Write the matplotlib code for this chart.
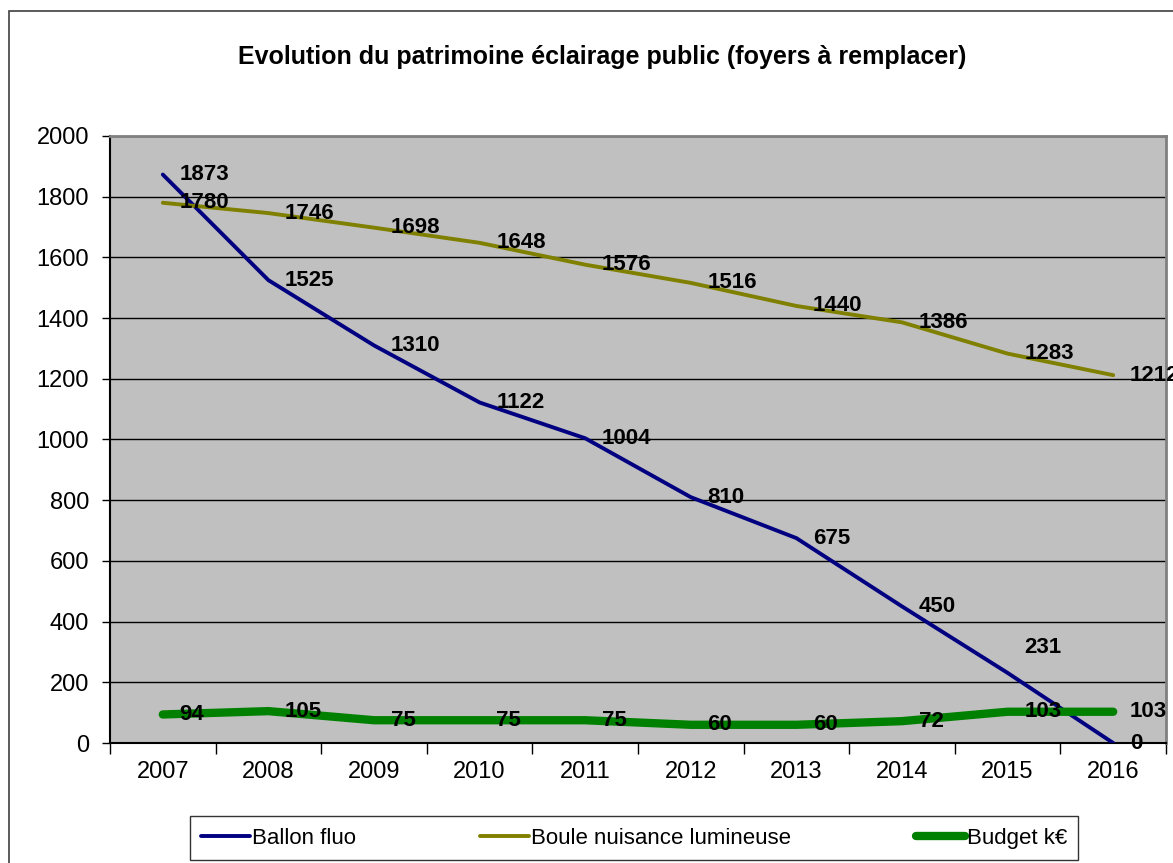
import numpy as np
import matplotlib.pyplot as plt
from matplotlib.patches import Rectangle

plt.rcParams['font.family'] = ['Liberation Sans', 'DejaVu Sans']

annees = ['2007', '2008', '2009', '2010', '2011', '2012', '2013', '2014', '2015', '2016']
ballon_fluo = [1873, 1525, 1310, 1122, 1004, 810, 675, 450, 231, 0]
boule_nuisance = [1780, 1746, 1698, 1648, 1576, 1516, 1440, 1386, 1283, 1212]
budget = [94, 105, 75, 75, 75, 60, 60, 72, 103, 103]

fig = plt.figure(figsize=(11.73, 8.63), dpi=100)
ax = fig.add_axes([110 / 1173, 120 / 863, 1056 / 1173, 607 / 863])
ax.set_facecolor('#C0C0C0')

x = np.arange(len(annees))
series = [
    (ballon_fluo, '#000080', 2.8, 'Ballon fluo'),
    (boule_nuisance, '#808000', 2.8, 'Boule nuisance lumineuse'),
    (budget, '#008000', 6, 'Budget k€'),
]
for vals, col, lw, lab in series:
    ax.plot(x, vals, color=col, lw=lw, label=lab, solid_capstyle='round', zorder=3)
    for xi, v in zip(x, vals):
        dy = 0
        if lab == 'Ballon fluo' and v == 231:
            dy = 18
        ax.annotate(str(v), (xi, v), xytext=(12, dy), textcoords='offset points',
                    ha='left', va='center', fontsize=16, fontweight='bold',
                    color='black', zorder=4, annotation_clip=False)

ax.set_xlim(-0.5, 9.5)
ax.set_ylim(0, 2000)
ax.set_yticks(range(0, 2001, 200))
ax.yaxis.grid(True, color='black', lw=1)
ax.set_axisbelow(True)
ax.set_xticks(x)
ax.set_xticklabels(annees)
ax.set_xticks(np.arange(-0.5, 10, 1), minor=True)
ax.tick_params(axis='x', which='major', length=0, labelsize=17, pad=13)
ax.tick_params(axis='x', which='minor', length=8, width=1, color='black')
ax.tick_params(axis='y', length=6, width=1, labelsize=17, color='black', pad=9)

ax.spines['top'].set_color('#808080')
ax.spines['right'].set_color('#808080')
ax.spines['top'].set_linewidth(2)
ax.spines['right'].set_linewidth(2)
ax.spines['left'].set_linewidth(1.5)
ax.spines['bottom'].set_linewidth(1.5)

fig.text(602 / 1173, 1 - 57 / 863, 'Evolution du patrimoine éclairage public (foyers à remplacer)',
         ha='center', va='center', fontsize=18, fontweight='bold')

leg = fig.legend(loc='center', bbox_to_anchor=(634 / 1173, 1 - 838 / 863), ncol=3,
                 fontsize=16, frameon=True, fancybox=False, edgecolor='black',
                 handlelength=2.2, columnspacing=5.6, borderpad=0.5, handletextpad=0.1,
                 borderaxespad=0)
leg.get_frame().set_linewidth(1)

fig.patches.append(Rectangle((9 / 1173, -0.1), 1.2, 1.1 - 11 / 863,
                             transform=fig.transFigure, fill=False,
                             edgecolor='#404040', lw=1.2))

plt.savefig('out.png', dpi=100)
